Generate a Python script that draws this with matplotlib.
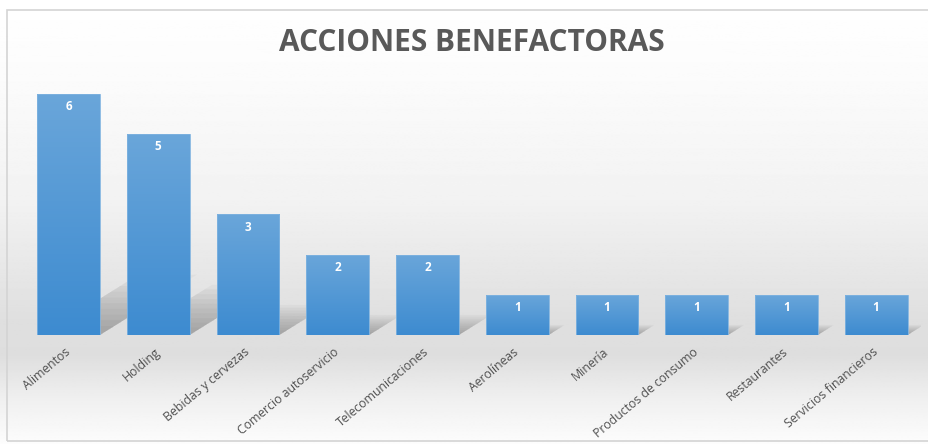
import numpy as np
import matplotlib
matplotlib.use("Agg")
import matplotlib.pyplot as plt
from matplotlib.patches import Rectangle, Polygon
from matplotlib.colors import LinearSegmentedColormap

categories = ["Alimentos", "Holding", "Bebidas y cervezas", "Comercio autoservicio",
              "Telecomunicaciones", "Aerolíneas", "Minería", "Productos de consumo",
              "Restaurantes", "Servicios financieros"]
values = [6, 5, 3, 2, 2, 1, 1, 1, 1, 1]
title = "ACCIONES BENEFACTORAS"

plt.rcParams['font.family'] = ['Open Sans', 'DejaVu Sans']

fig = plt.figure(figsize=(9.29, 4.44), dpi=100)

# background gradient
bg = fig.add_axes([0, 0, 1, 1], zorder=-10)
stops_y = [0.0, 0.18, 0.45, 0.72, 0.80, 0.90, 1.0]
stops_v = [1.0, 0.985, 0.95, 0.875, 0.87, 0.94, 0.99]
yy = np.linspace(0, 1, 400)
vals = np.interp(yy, stops_y, stops_v)
img = np.repeat(vals[:, None], 2, axis=1)
bg.imshow(img, cmap='gray', vmin=0, vmax=1, aspect='auto', extent=[0, 1, 1, 0])
bg.set_xlim(0, 1); bg.set_ylim(1, 0)
bg.axis('off')
# border
fig.patches.append(Rectangle((7.5/929, 3/444), 1.2, 1 - 13/444, transform=fig.transFigure,
                             fill=False, edgecolor='#d4d4d4', linewidth=1.2, zorder=-5))

ax = fig.add_axes([23.6/929, 1 - 335/444, 897.4/929, (335 - 53.6)/444])
ax.patch.set_alpha(0)
x = np.arange(len(categories))
width = 0.70
ax.set_xlim(-0.5, len(categories) - 0.5)
ax.set_ylim(0, 7)

cmap = LinearSegmentedColormap.from_list('b', ['#3d8bd0', '#6aa6da'])
grad = np.linspace(0, 1, 256)[:, None]

for xi, v in zip(x, values):
    # soft diagonal shadow cast up-right from the bar base
    h = 0.25 * v
    dx = 0.18 * v
    for s in np.linspace(1.0, 0.15, 10):
        sh = Polygon([(xi - width/2 + 0.05, 0), (xi + width/2, 0),
                      (xi + width/2 + dx * s, h * s),
                      (xi - width/2 + 0.05 + dx * s, h * s)],
                     closed=True, facecolor='#404040', alpha=0.04, edgecolor='none', zorder=1)
        ax.add_patch(sh)
    rect = Rectangle((xi - width/2, 0), width, v, facecolor='none', edgecolor='#7fb3e0',
                     linewidth=0.6, zorder=3)
    ax.add_patch(rect)
    im = ax.imshow(grad, cmap=cmap, aspect='auto', origin='lower',
                   extent=[xi - width/2, xi + width/2, 0, v], zorder=2)
    im.set_clip_path(rect)
    ax.text(xi, v - 0.32, str(v), ha='center', va='center', color='white',
            fontsize=8.5, fontweight='bold', zorder=4)

ax.set_xlim(-0.5, len(categories) - 0.5)
ax.set_ylim(0, 7)
ax.set_xticks(x)
ax.set_xticklabels(categories, rotation=40, ha='right', va='center', rotation_mode='anchor',
                   fontsize=8.8, color='#505050')
ax.tick_params(axis='x', length=0, pad=11)
ax.set_yticks([])
for sp in ax.spines.values():
    sp.set_visible(False)

fig.text(471.5/929, 1 - 43/444, title, ha='center', va='center', fontsize=21.5,
         fontweight='bold', color='#595959')

fig.savefig('out.png', dpi=100)
